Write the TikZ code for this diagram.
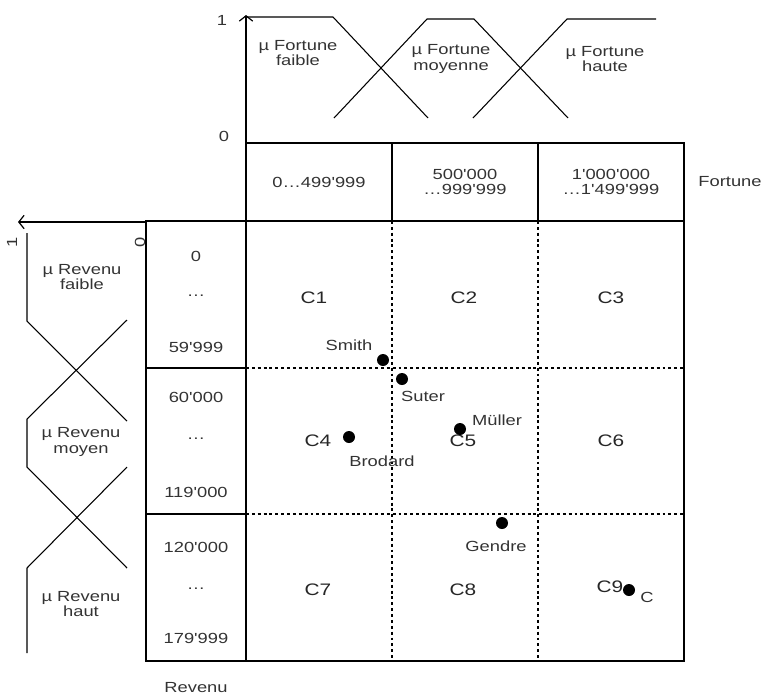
\documentclass[tikz,border=0pt]{standalone}
\usepackage{fontspec}
\setmainfont{Liberation Sans}
\newfontfamily\widesans[FakeStretch=1.25]{Liberation Sans}
\usetikzlibrary{arrows.meta, positioning}

\begin{document}
\begin{tikzpicture}[
  x=0.75pt, y=-0.75pt,
  txt/.style={align=center, inner sep=0pt, font=\widesans\fontsize{11}{11.3}\selectfont, text=black!80},
  cell/.style={inner sep=0pt, font=\widesans\fontsize{12.5}{15}\selectfont, text=black!85},
  frame/.style={line width=1.2pt},
  sep/.style={line width=1pt, dash pattern=on 2.2pt off 2.2pt},
  mf/.style={line width=0.8pt},
  axis/.style={line width=0.9pt, -{Straight Barb[length=4pt, width=10pt]}},
  pt/.style={circle, fill, inner sep=0pt, minimum size=9pt}
]
  \useasboundingbox (0,0) rectangle (765,697);

  % membership functions, fortune
  \draw[axis] (246,143) -- (246,15);
  \node[txt] (one) at (222,20) {1};
  \node[txt] (zero) at (224,136) {0};
  \draw[mf] (246,17) -- (333,17) -- (428,118);
  \draw[mf] (334,118) -- (427,19) -- (474,19) -- (568,118);
  \draw[mf] (473,118) -- (567,19) -- (656,19);
  \node[txt] (ffaible) at (298,53) {µ Fortune\\faible};
  \node[txt] (fmoy) at (451,59) {µ Fortune\\moyenne};
  \node[txt] (fhaute) at (605,59) {µ Fortune\\haute};

  % membership functions, revenu
  \draw[axis] (146,222) -- (18,222);
  \node[txt, rotate=90] (oneR) at (12,242) {1};
  \node[txt, rotate=90] (zeroR) at (140,242) {0};
  \draw[mf] (27,233) -- (27,321) -- (127,421);
  \draw[mf] (127,320) -- (27,419) -- (27,467) -- (127,568);
  \draw[mf] (127,467) -- (27,568) -- (27,653);
  \node[txt] (rfaible) at (82,277) {µ Revenu\\faible};
  \node[txt] (rmoy) at (81,442) {µ Revenu\\moyen};
  \node[txt] (rhaut) at (81,604) {µ Revenu\\haut};

  % header
  \draw[frame] (246,143) rectangle (684,221);
  \draw[frame] (392,143) -- (392,221) (538,143) -- (538,221);
  \node[txt] (h1) at (319,182) {0\ldots499'999};
  \node[txt] (h2) at (465,182) {500'000\\\ldots999'999};
  \node[txt] (h3) at (611,182) {1'000'000\\\ldots1'499'999};
  \node[txt] (fortune) at (730,182) {Fortune};

  % grid
  \draw[frame] (146,221) rectangle (684,661);
  \draw[frame] (246,221) -- (246,661);
  \draw[frame] (146,368) -- (246,368) (146,514) -- (246,514);
  \foreach \x in {392,538} \draw[sep] (\x,221) -- (\x,661);
  \foreach \y in {368,514} \draw[sep] (246,\y) -- (684,\y);

  % revenu classes
  \node[txt] (r1a) at (196,256) {0};
  \node[txt] (r1b) at (196,296) {\ldots};
  \node[txt] (r1c) at (196,347) {59'999};
  \node[txt] (r2a) at (196,397) {60'000};
  \node[txt] (r2b) at (196,439) {\ldots};
  \node[txt] (r2c) at (196,492) {119'000};
  \node[txt] (r3a) at (196,547) {120'000};
  \node[txt] (r3b) at (196,589) {\ldots};
  \node[txt] (r3c) at (196,638) {179'999};
  \node[txt] (revenu) at (196,688) {Revenu};

  % cells
  \foreach \n/\x/\y in {1/314/298, 2/464/298, 3/611/298,
                        4/318/441, 5/463/441, 6/611/441,
                        7/318/590, 8/463/590, 9/610/587}
    \node[cell] (c\n) at (\x,\y) {C\n};

  % clients
  \node[pt] (smith) at (383,360) {};
  \node[pt] (suter) at (402,379) {};
  \node[pt] (brodard) at (349,437) {};
  \node[pt] (muller) at (460,429) {};
  \node[pt] (gendre) at (502,523) {};
  \node[pt] (cli) at (629,590) {};
  \node[txt] (smithl) at (349,345) {Smith};
  \node[txt] (suterl) at (423,396) {Suter};
  \node[txt] (brodardl) at (382,461) {Brodard};
  \node[txt] (mullerl) at (497,420) {Müller};
  \node[txt] (gendrel) at (496,546) {Gendre};
  \node[txt] (clil) at (647,597) {C};
\end{tikzpicture}
\end{document}
